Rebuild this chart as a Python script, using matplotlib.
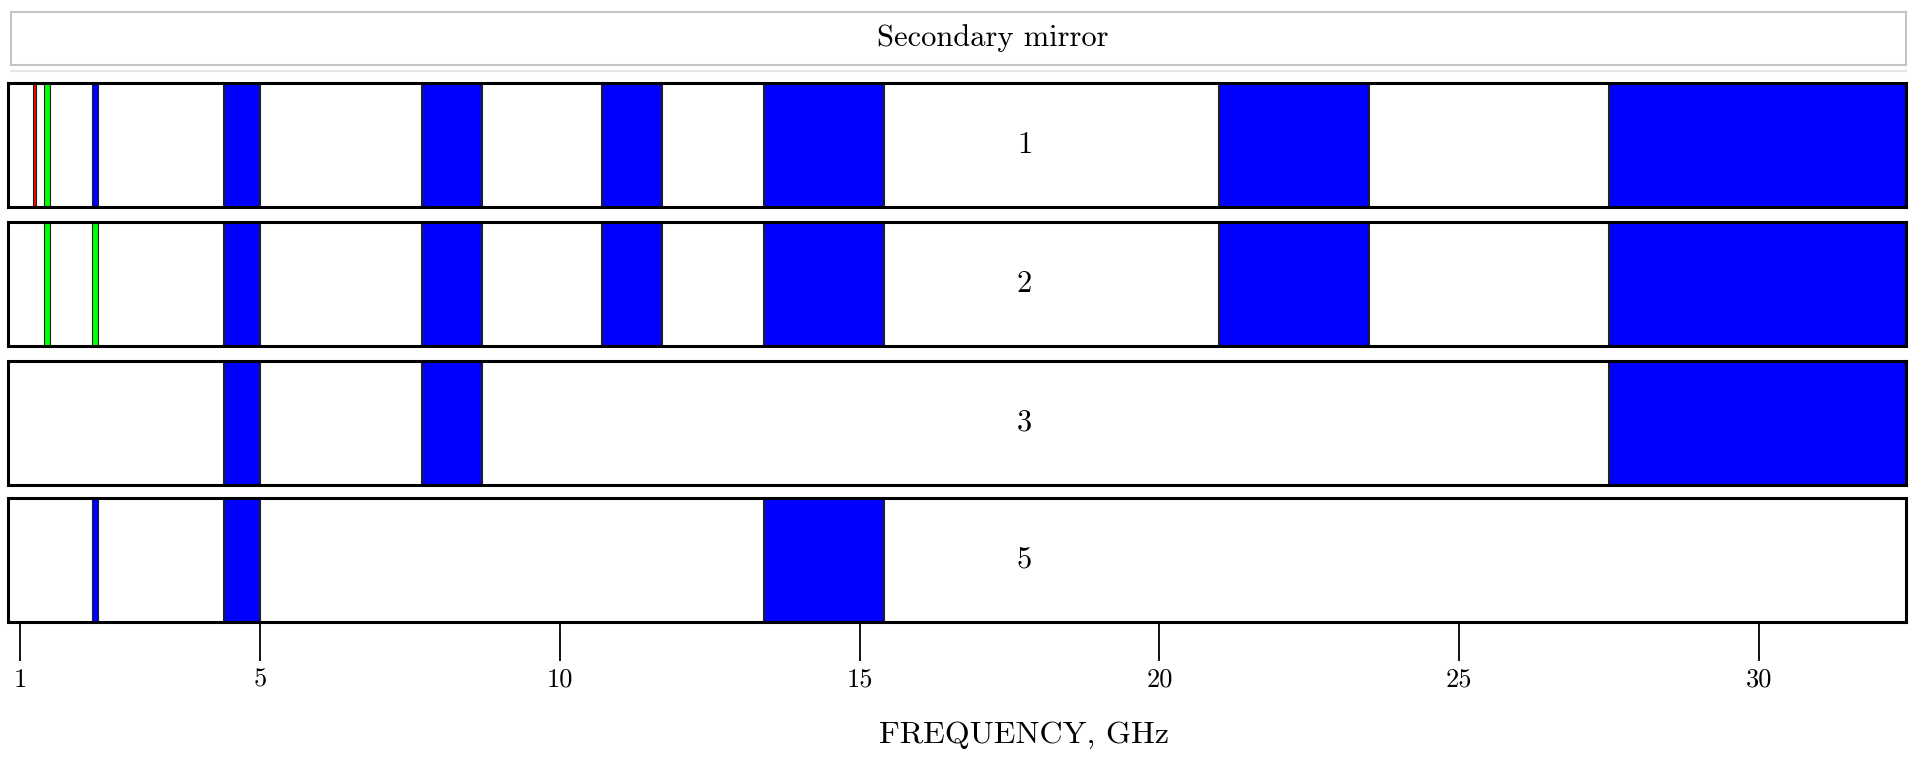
import matplotlib
matplotlib.use('Agg')
import matplotlib.pyplot as plt

plt.rcParams['font.family'] = ['cmr10', 'DejaVu Serif']
plt.rcParams['axes.unicode_minus'] = False

# band edges (GHz) and colours for each receiver panel
panel_names = ['1', '2', '3', '5']

p1_lo = [1.21, 1.40, 2.20, 4.4, 7.7, 10.7, 13.4, 21.0, 27.5]
p1_hi = [1.27, 1.49, 2.29, 5.0, 8.7, 11.7, 15.4, 23.5, 34.0]
p1_col = ['red', 'lime', 'blue', 'blue', 'blue', 'blue', 'blue', 'blue', 'blue']

p2_lo = [1.40, 2.20, 4.4, 7.7, 10.7, 13.4, 21.0, 27.5]
p2_hi = [1.49, 2.29, 5.0, 8.7, 11.7, 15.4, 23.5, 34.0]
p2_col = ['lime', 'lime', 'blue', 'blue', 'blue', 'blue', 'blue', 'blue']

p3_lo = [4.4, 7.7, 27.5]
p3_hi = [5.0, 8.7, 34.0]
p3_col = ['blue', 'blue', 'blue']

p5_lo = [2.20, 4.4, 13.4]
p5_hi = [2.29, 5.0, 15.4]
p5_col = ['blue', 'blue', 'blue']

freq_ticks = [1, 5, 10, 15, 20, 25, 30]
x_min, x_max = 0.79, 32.45

panels = [(p1_lo, p1_hi, p1_col), (p2_lo, p2_hi, p2_col),
          (p3_lo, p3_hi, p3_col), (p5_lo, p5_hi, p5_col)]

W, H = 1911, 758
fig = plt.figure(figsize=(W / 100, H / 100), dpi=100)

# title box
tax = fig.add_axes([11 / W, 1 - 65 / H, (1906 - 11) / W, 53 / H])
tax.set_xticks([])
tax.set_yticks([])
for s in tax.spines.values():
    s.set_color('#c4c4c4')
    s.set_linewidth(1.5)
tax.text(0.518, 0.5, 'Secondary mirror', transform=tax.transAxes,
         ha='center', va='center', fontsize=22)
fig.add_artist(plt.Line2D([11 / W, 1906 / W], [1 - 71 / H, 1 - 71 / H],
                          color='#e6e6e6', lw=1.5))

tops = [83, 222, 361, 498]
ph = 124
left = 7.7 / W
width = (1905.8 - 7.7) / W

axes = []
for i, (name, (lo, hi, col)) in enumerate(zip(panel_names, panels)):
    ax = fig.add_axes([left, 1 - (tops[i] + ph) / H, width, ph / H])
    for a, b, c in zip(lo, hi, col):
        edge_w = 0.8 if (b - a) < 0.2 else 1.5
        ax.axvspan(a, b, ymin=0, ymax=1, facecolor=c, edgecolor='#202020', lw=edge_w)
    ax.text(17.75, 0.5, name, ha='center', va='center', fontsize=22,
            transform=ax.get_xaxis_transform())
    ax.set_xlim(x_min, x_max)
    ax.set_ylim(0, 1)
    ax.set_yticks([])
    for s in ax.spines.values():
        s.set_linewidth(2.2)
        s.set_color('black')
    if i < 3:
        ax.set_xticks([])
    axes.append(ax)

ax = axes[-1]
ax.set_xticks(freq_ticks)
ax.set_xticklabels([str(t) for t in freq_ticks])
ax.tick_params(axis='x', direction='out', length=28, width=1.3, pad=5, labelsize=19)
ax.set_xlabel('FREQUENCY, GHz', fontsize=23)
ax.xaxis.set_label_coords((17.75 - x_min) / (x_max - x_min), -0.8)

fig.savefig('out.png', dpi=100)
